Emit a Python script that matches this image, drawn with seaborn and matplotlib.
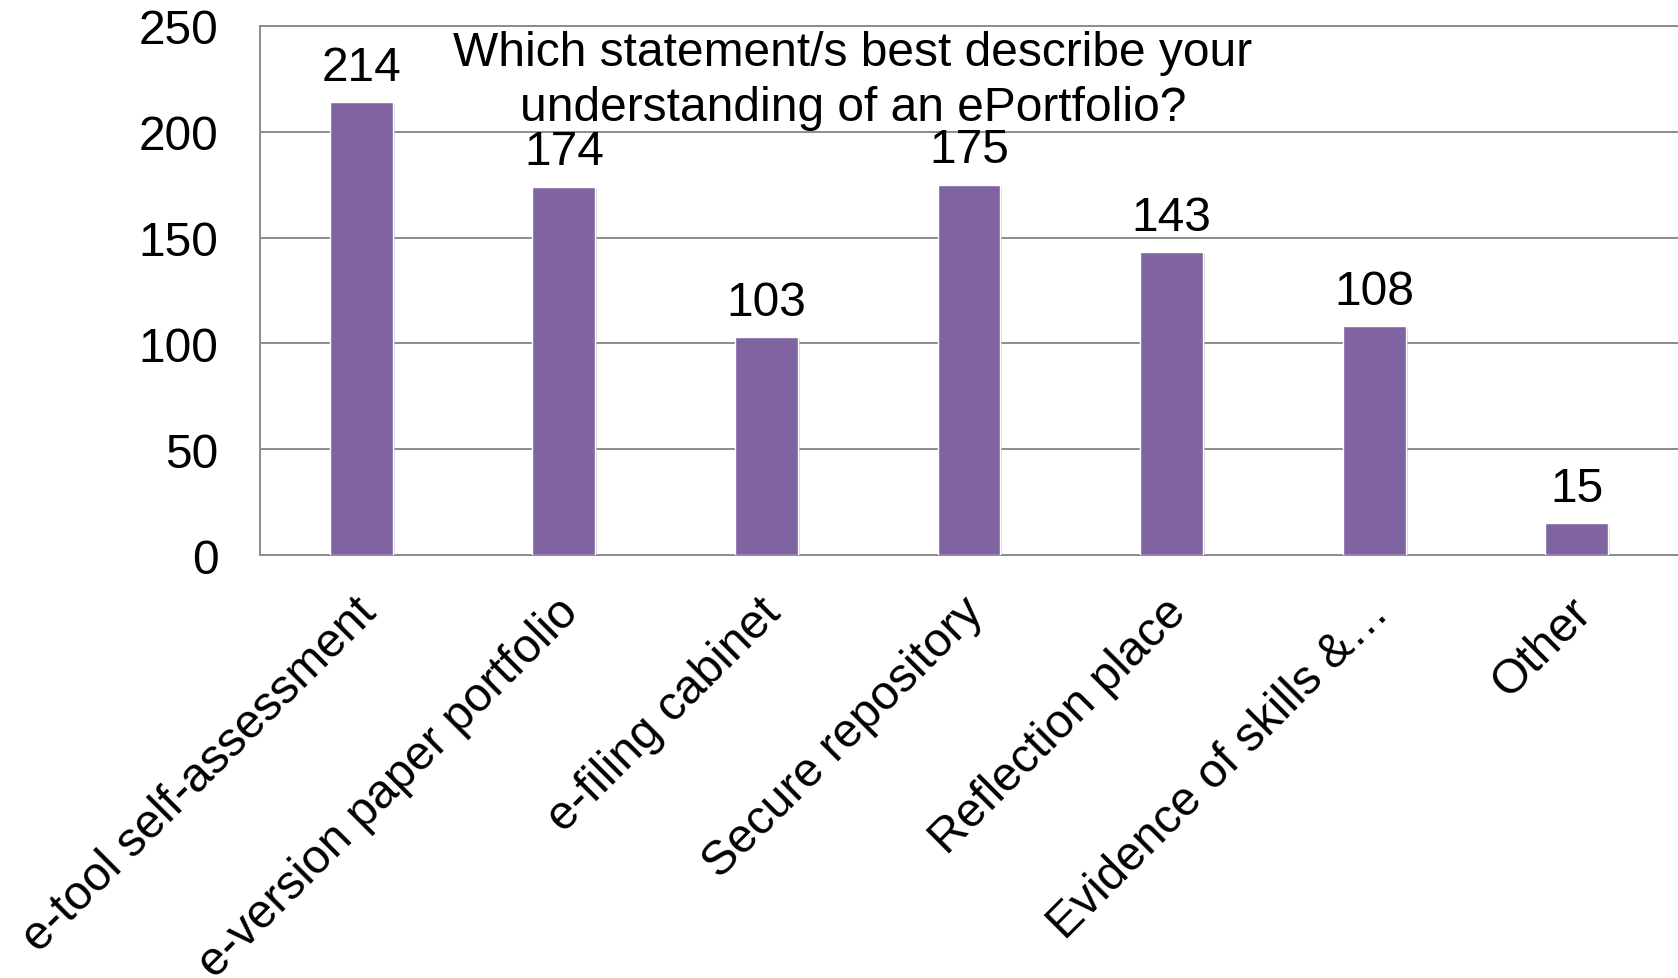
import matplotlib
matplotlib.use("Agg")
import matplotlib.pyplot as plt
import matplotlib.transforms as mtransforms
import matplotlib.patheffects as pe
import seaborn as sns
import pandas as pd

categories = [
    "e-tool self-assessment",
    "e-version paper portfolio",
    "e-filing cabinet",
    "Secure repository",
    "Reflection place",
    "Evidence of skills &\u2026",
    "Other",
]
counts = [214, 174, 103, 175, 143, 108, 15]
y_ticks = [0, 50, 100, 150, 200, 250]
title = "Which statement/s best describe your\nunderstanding of an ePortfolio?"

sns.set_theme(style="white")
plt.rcParams["font.family"] = ["Liberation Sans", "DejaVu Sans"]

FS = 34.5
W, H, DPI = 1678, 979, 100
fig = plt.figure(figsize=(W / DPI, H / DPI), dpi=DPI)
ax = fig.add_axes([260 / W, 1 - 556 / H, 1418 / W, 529 / H])

df = pd.DataFrame({"category": categories, "count": counts})
sns.barplot(data=df, x="category", y="count", color="#8064A2",
            saturation=1, width=0.31, ax=ax, zorder=3)

for bar in ax.patches:
    bar.set_path_effects([
        pe.SimplePatchShadow(offset=(1.5, -1.5), shadow_rgbFace="#b0b0b0", alpha=0.5),
        pe.Normal(),
    ])

grid_color = "#8c8c8c"
ax.set_ylim(0, 250)
ax.set_yticks(y_ticks)
ax.yaxis.grid(True, color=grid_color, linewidth=1.4, zorder=0)
ax.set_axisbelow(True)
ax.set_xlabel("")
ax.set_ylabel("")

for side in ["left", "top", "bottom"]:
    ax.spines[side].set_visible(True)
    ax.spines[side].set_color(grid_color)
    ax.spines[side].set_linewidth(1.4)
ax.spines["right"].set_visible(False)

ax.tick_params(axis="y", labelsize=FS, colors="black", length=0, pad=30)
ax.tick_params(axis="x", labelsize=FS, colors="black", length=0, pad=0)

# Slanted category labels, ending just left of each bar's centre
ax.set_xticks(range(len(categories)))
ax.set_xticklabels(categories, rotation=45, ha="right", va="top",
                   rotation_mode="anchor")
shift = mtransforms.ScaledTranslation(-8 / DPI, -34 / DPI, fig.dpi_scale_trans)
for lbl in ax.get_xticklabels():
    lbl.set_transform(lbl.get_transform() + shift)

ax.bar_label(ax.containers[0], labels=[str(v) for v in counts],
             padding=9, fontsize=FS, color="black")

fig.text(853 / W, 1 - 31 / H, title, ha="center", va="top",
         fontsize=FS, color="black", linespacing=1.29)

fig.savefig("out.png", dpi=DPI, facecolor="white")
